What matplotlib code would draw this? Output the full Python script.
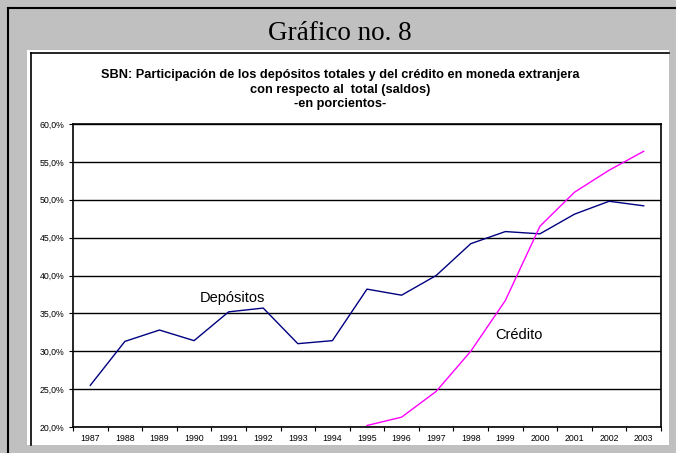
import numpy as np
import matplotlib
matplotlib.use("Agg")
import matplotlib.pyplot as plt
import matplotlib.ticker as ticker
from matplotlib.patches import Rectangle
from matplotlib.lines import Line2D

years = [str(y) for y in range(1987, 2004)]
depositos = [25.5, 31.3, 32.8, 31.4, 35.2, 35.7, 31.0, 31.4, 38.2,
             37.4, 40.0, 44.2, 45.8, 45.5, 48.1, 49.8, 49.2]
credito_years = [str(y) for y in range(1995, 2004)]
credito = [20.2, 21.3, 24.7, 30.0, 36.7, 46.5, 51.0, 53.9, 56.4]

plt.rcParams["font.family"] = ["Liberation Sans", "DejaVu Sans"]

fig = plt.figure(figsize=(6.76, 4.53), dpi=100, facecolor="#c0c0c0")

# outer frame and white chart panel (drawn behind the axes)
fig.add_artist(Line2D([7.5 / 676, 7.5 / 676], [0, 1 - 8 / 453], color="black", lw=1.5, zorder=-2))
fig.add_artist(Line2D([7.5 / 676, 1], [1 - 8 / 453, 1 - 8 / 453], color="black", lw=1.5, zorder=-2))
fig.add_artist(Rectangle((27 / 676, 1 - 445 / 453), 642 / 676, 395 / 453,
                         facecolor="white", edgecolor="none", zorder=-2))
fig.add_artist(Line2D([31 / 676, 31 / 676], [1 - 445 / 453, 1 - 53 / 453], color="black", lw=1.2, zorder=-1))
fig.add_artist(Line2D([31 / 676, 669 / 676], [1 - 53 / 453, 1 - 53 / 453], color="black", lw=1.2, zorder=-1))

fig.text(0.503, 1 - 34 / 453, "Gráfico no. 8", family="Liberation Serif",
         fontsize=19.5, ha="center", va="center")
fig.text(0.503, 1 - 89.5 / 453,
         "SBN: Participación de los depósitos totales y del crédito en moneda extranjera\n"
         "con respecto al  total (saldos)\n-en porcientos-",
         fontsize=9.2, fontweight="bold", ha="center", va="center", linespacing=1.25)

ax = fig.add_axes([73 / 676, 1 - 427 / 453, 588 / 676, 303 / 453])
ax.set_zorder(2)
ax.set_facecolor("white")

x = np.arange(len(years))
xc = np.array([years.index(y) for y in credito_years])
ax.plot(x, depositos, color="#000080", lw=1.0)
ax.plot(xc, credito, color="#ff00ff", lw=1.0)

ax.set_xlim(-0.5, len(years) - 0.5)
ax.set_ylim(20, 60)
ax.yaxis.set_major_locator(ticker.MultipleLocator(5))
ax.yaxis.set_major_formatter(ticker.FuncFormatter(lambda v, _: f"{v:.1f}%".replace(".", ",")))
ax.grid(True, axis="y", color="black", lw=1.0)

ax.set_xticks(np.arange(-0.5, len(years), 1.0))
ax.set_xticklabels([])
ax.set_xticks(x, minor=True)
ax.set_xticklabels(years, minor=True)
ax.tick_params(axis="x", which="major", length=3, direction="out", width=0.8)
ax.tick_params(axis="x", which="minor", length=0, labelsize=6.3, pad=5)
ax.tick_params(axis="y", length=3, direction="out", width=0.8, labelsize=6.3, pad=3)
for s in ax.spines.values():
    s.set_color("black")
    s.set_linewidth(1.2)

ax.text(4.1, 37.0, "Depósitos", fontsize=10.5, ha="center", va="center")
ax.text(12.4, 32.1, "Crédito", fontsize=10.5, ha="center", va="center")

fig.savefig("out.png", dpi=100, facecolor=fig.get_facecolor())
